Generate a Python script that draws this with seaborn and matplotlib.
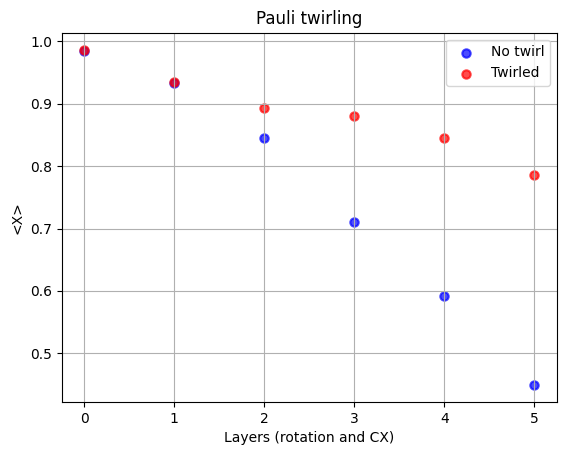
import numpy as np
import pandas as pd
import matplotlib
matplotlib.use('Agg')
import matplotlib.pyplot as plt
import seaborn as sns

layers = [0, 1, 2, 3, 4, 5]
no_twirl = [0.984, 0.934, 0.845, 0.711, 0.592, 0.449]
twirled = [0.987, 0.935, 0.893, 0.880, 0.845, 0.786]

df = pd.DataFrame({'layers': layers, 'No twirl': no_twirl, 'Twirled': twirled})

fig, ax = plt.subplots(figsize=(5.67, 4.55), dpi=100)
fig.subplots_adjust(left=0.109, right=0.982, bottom=0.1165, top=0.928)

sns.scatterplot(data=df, x='layers', y='No twirl', color='blue', alpha=0.7,
                s=36, edgecolor='face', linewidth=1.5, label='No twirl', ax=ax)
sns.scatterplot(data=df, x='layers', y='Twirled', color='red', alpha=0.7,
                s=36, edgecolor='face', linewidth=1.5, label='Twirled', ax=ax)

ax.set_title('Pauli twirling')
ax.set_xlabel('Layers (rotation and CX)')
ax.set_ylabel('<X>')
ax.grid(True)
ax.legend(loc='upper right')

plt.savefig('out.png')
